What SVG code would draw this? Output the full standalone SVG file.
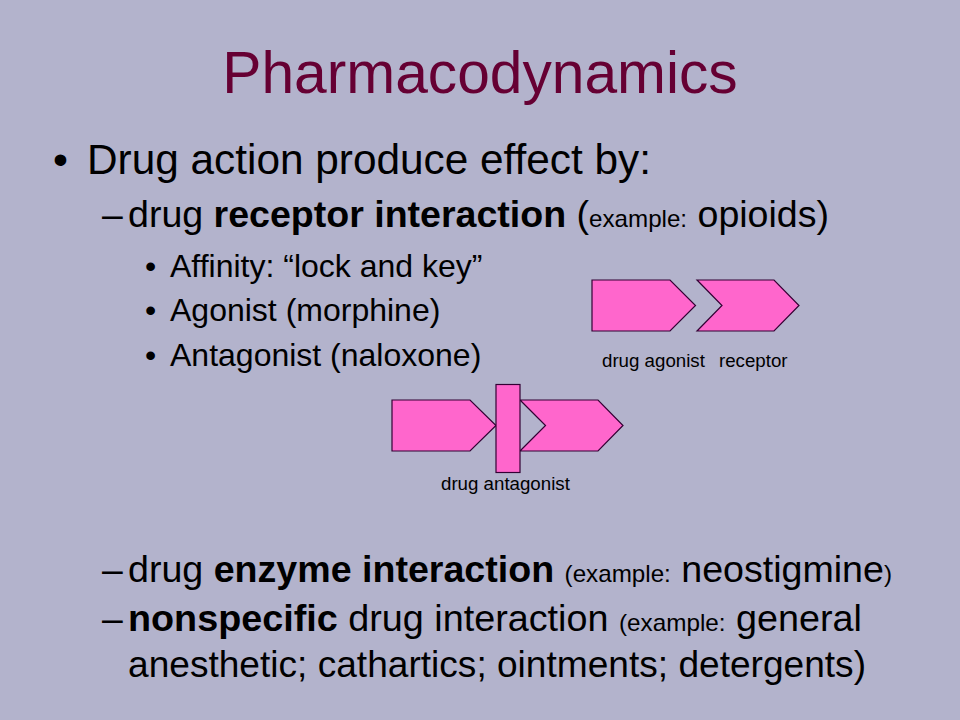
<svg xmlns="http://www.w3.org/2000/svg" width="960" height="720" viewBox="0 0 960 720">
<style>
text{font-family:"Liberation Sans",Arial,sans-serif;fill:#000}
.title{font-size:58.7px;fill:#660033}
.l1{font-size:42.7px}
.l2{font-size:37.3px}
.l3{font-size:32px}
.sm{font-size:24px}
.b{font-weight:bold}
.lbl{font-size:18.7px}
.shape{fill:#FF66CC;stroke:#330033;stroke-width:1.2}
</style>
<rect x="0" y="0" width="960" height="720" fill="#B3B3CC"/>
<g id="title"><text class="title" x="480" y="93" text-anchor="middle">Pharmacodynamics</text></g>
<g id="text-body">
<text class="l1" x="53" y="174">•</text>
<text class="l1" x="87" y="174" textLength="564" lengthAdjust="spacingAndGlyphs">Drug action produce effect by:</text>
<text class="l2" x="102" y="227">–</text>
<text class="l2" x="128" y="227" textLength="701" lengthAdjust="spacingAndGlyphs">drug <tspan class="b">receptor interaction</tspan> (<tspan class="sm">example:</tspan> opioids)</text>
<text class="l3" x="145" y="277">•</text>
<text class="l3" x="170" y="277">Affinity: “lock and key”</text>
<text class="l3" x="145" y="321">•</text>
<text class="l3" x="170" y="321">Agonist (morphine)</text>
<text class="l3" x="145" y="366">•</text>
<text class="l3" x="170" y="366">Antagonist (naloxone)</text>
<text class="l2" x="102" y="582">–</text>
<text class="l2" x="128" y="582" textLength="764" lengthAdjust="spacingAndGlyphs">drug <tspan class="b">enzyme interaction</tspan> <tspan class="sm">(example:</tspan> neostigmine<tspan class="sm">)</tspan></text>
<text class="l2" x="102" y="631">–</text>
<text class="l2" x="128" y="631" textLength="734" lengthAdjust="spacingAndGlyphs"><tspan class="b">nonspecific</tspan> drug interaction  <tspan class="sm">(example:</tspan> general</text>
<text class="l2" x="128" y="677" textLength="738" lengthAdjust="spacingAndGlyphs">anesthetic;  cathartics;  ointments;  detergents)</text>
</g>
<g id="agonist">
<polygon class="shape" points="592,280 670,280 695.5,305.5 670,331 592,331"/>
<text class="lbl" x="602" y="367">drug agonist</text>
</g>
<g id="receptor">
<polygon class="shape" points="697,280 774,280 799,305.5 774,331 697,331 722,305.5"/>
<text class="lbl" x="719" y="367">receptor</text>
</g>
<g id="antagonist-drug">
<polygon class="shape" points="392,400 470,400 496,425.5 470,451 392,451"/>
</g>
<g id="antagonist-receptor">
<polygon class="shape" points="520,400 598,400 623,425.5 598,451 520,451 545.5,425.5"/>
</g>
<g id="antagonist">
<rect class="shape" x="496" y="384.5" width="24" height="88"/>
<text class="lbl" x="441" y="490">drug antagonist</text>
</g>
<g id="connectors"/>
</svg>
